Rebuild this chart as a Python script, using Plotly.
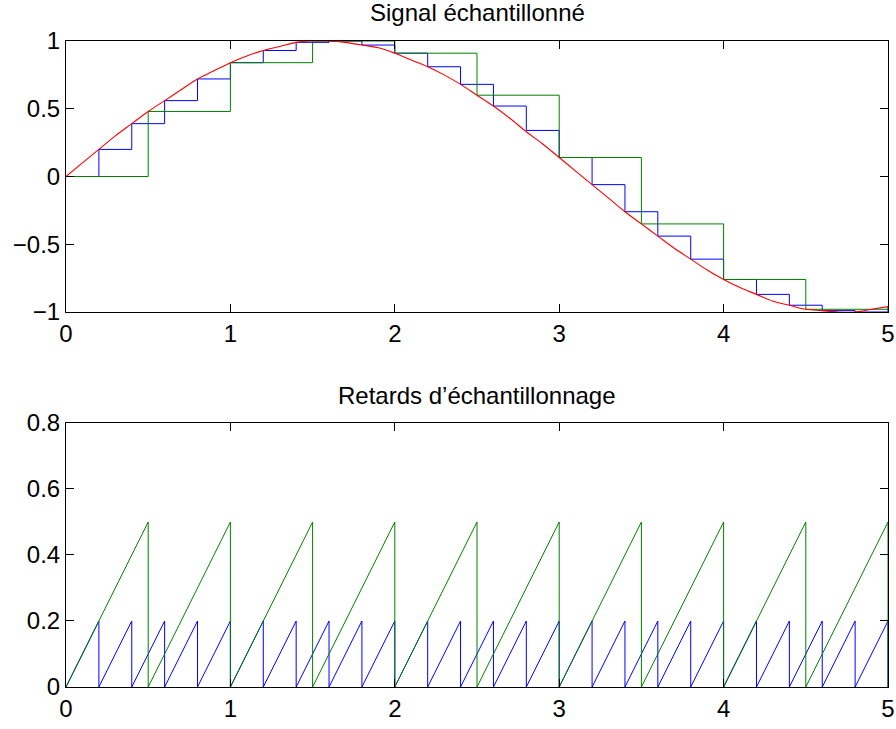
import plotly.graph_objects as go

# Continuous signal, t step 0.1
t_signal = [round(i * 0.1, 1) for i in range(51)]
y_signal = [0.00, 0.10, 0.20, 0.30, 0.39, 0.48, 0.56, 0.64, 0.72, 0.78,
            0.84, 0.89, 0.93, 0.96, 0.99, 1.00, 1.00, 0.99, 0.97, 0.95,
            0.91, 0.86, 0.81, 0.75, 0.68, 0.60, 0.52, 0.43, 0.33, 0.24,
            0.14, 0.04, -0.06, -0.16, -0.26, -0.35, -0.44, -0.53, -0.61, -0.69,
            -0.76, -0.82, -0.87, -0.92, -0.95, -0.98, -0.99, -1.00, -1.00, -0.98,
            -0.96]

# Blue samples (period 0.2)
t_blue = [round(i * 0.2, 1) for i in range(26)]
y_blue = [0.00, 0.20, 0.39, 0.56, 0.72, 0.84, 0.93, 0.99, 1.00, 0.97,
          0.91, 0.81, 0.68, 0.52, 0.34, 0.14, -0.06, -0.26, -0.44, -0.61,
          -0.76, -0.87, -0.95, -0.99, -1.00, -0.96]

# Green samples (period 0.5)
t_green = [0.0, 0.5, 1.0, 1.5, 2.0, 2.5, 3.0, 3.5, 4.0, 4.5, 5.0]
y_green = [0.00, 0.48, 0.84, 1.00, 0.91, 0.60, 0.14, -0.35, -0.76, -0.98, -0.96]

BLUE = "#0000ff"
GREEN = "#008000"
RED = "#ff0000"


def sawtooth(ts):
    xs, ys = [], []
    for a, b in zip(ts[:-1], ts[1:]):
        xs += [a, b, b]
        ys += [0, round(b - a, 3), 0]
    return xs, ys


fig = go.Figure()
# top
fig.add_trace(go.Scatter(x=t_blue, y=y_blue, mode="lines", line=dict(color=BLUE, width=1, shape="hv"),
                         xaxis="x", yaxis="y"))
fig.add_trace(go.Scatter(x=t_green, y=y_green, mode="lines", line=dict(color=GREEN, width=1, shape="hv"),
                         xaxis="x", yaxis="y"))
fig.add_trace(go.Scatter(x=t_signal, y=y_signal, mode="lines", line=dict(color=RED, width=1.1, shape="spline"),
                         xaxis="x", yaxis="y"))
# bottom
bx, by = sawtooth(t_blue)
gx, gy = sawtooth(t_green)
fig.add_trace(go.Scatter(x=bx, y=by, mode="lines", line=dict(color=BLUE, width=1), xaxis="x2", yaxis="y2"))
fig.add_trace(go.Scatter(x=gx, y=gy, mode="lines", line=dict(color=GREEN, width=1), xaxis="x2", yaxis="y2"))

FAMILY = "Liberation Sans, Arial, sans-serif"
font = dict(family=FAMILY, size=24, color="black")
axcommon = dict(showgrid=False, zeroline=False, showline=True, linecolor="black", linewidth=1,
                mirror="ticks", ticks="inside", ticklen=8, tickcolor="black", tickfont=font,
                automargin=False)

fig.update_layout(
    width=896, height=729,
    margin=dict(l=66, r=8, t=41, b=42),
    paper_bgcolor="white", plot_bgcolor="white",
    showlegend=False,
    xaxis=dict(domain=[0, 1], range=[0, 5], tickvals=[0, 1, 2, 3, 4, 5], anchor="y", **axcommon),
    yaxis=dict(domain=[0.5805, 1.0], range=[-1, 1], tickvals=[-1, -0.5, 0, 0.5, 1], anchor="x", **axcommon),
    xaxis2=dict(domain=[0, 1], range=[0, 5], tickvals=[0, 1, 2, 3, 4, 5], anchor="y2", **axcommon),
    yaxis2=dict(domain=[0, 0.4087], range=[0, 0.8], tickvals=[0, 0.2, 0.4, 0.6, 0.8], anchor="x2", **axcommon),
    annotations=[
        dict(text="Signal échantillonné", x=0.5, y=1.0, xref="paper", yref="paper", yshift=13,
             yanchor="bottom", showarrow=False, font=dict(family=FAMILY, size=24, color="black")),
        dict(text="Retards d’échantillonnage", x=0.5, y=0.4087, xref="paper", yref="paper", yshift=12,
             yanchor="bottom", showarrow=False, font=dict(family=FAMILY, size=24, color="black")),
    ],
)

fig.write_html("out.html", config={"displayModeBar": False},
               post_script="document.body.style.margin='0';")
